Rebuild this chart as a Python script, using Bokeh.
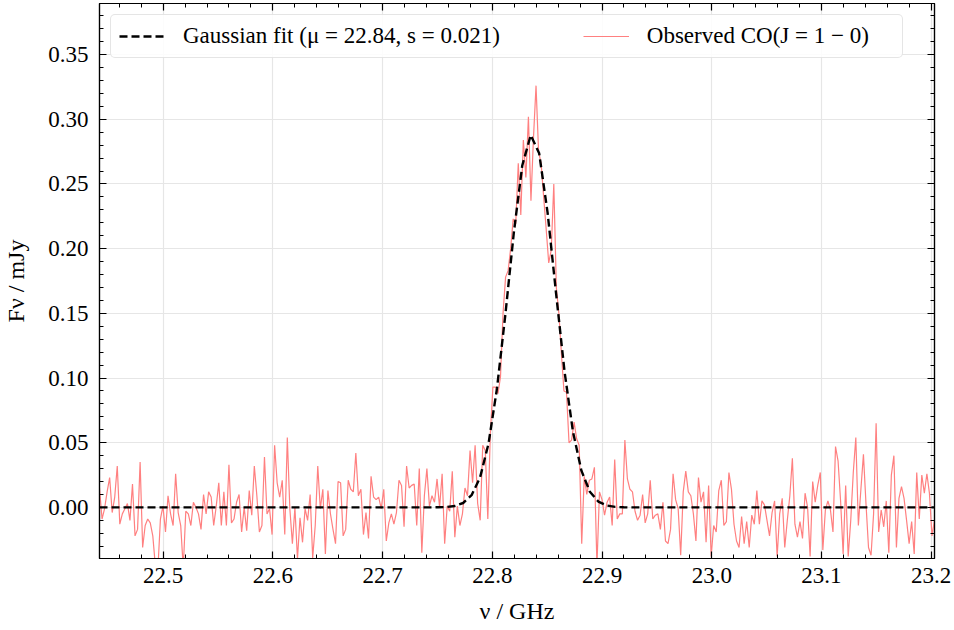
import numpy as np
from bokeh.plotting import figure
from bokeh.models import (Range1d, LinearAxis, SingleIntervalTicker,
                          NumeralTickFormatter, Legend, LegendItem)
from bokeh.embed import file_html
from bokeh.resources import INLINE

# ---------------- data ----------------
freq_start = 22.442   # GHz, first channel
freq_stop = 23.203    # GHz, last channel

# observed CO(1-0) spectrum, mJy, one value per channel
flux_obs = [
    # 22.44 - 22.58
    0.015, -0.009, -0.001, 0.012, 0.023, -0.004, 0.008, 0.032, -0.013, -0.005,
    -0.001, 0.003, -0.010, 0.018, -0.022, -0.017, 0.035, -0.031, -0.014, -0.009,
    -0.012, -0.022, -0.045, -0.048, -0.009, 0.001, -0.019, 0.009, -0.005, -0.014,
    0.026, -0.004, -0.014, -0.047, -0.003, -0.005, -0.014, 0.004, 0.000, -0.005,
    -0.017, 0.010, -0.005, 0.012, 0.008, -0.014, 0.001, 0.019, -0.014, 0.012,
    -0.014, 0.033, -0.012, -0.009, 0.004, 0.010, -0.019, 0.000, -0.018,
    # 22.58 - 22.71
    0.013, -0.006, 0.032, 0.009, -0.019, -0.014, 0.039, -0.005, -0.001, -0.021,
    0.048, 0.019, 0.008, 0.021, -0.021, 0.054, -0.001, -0.028, 0.000, -0.040,
    -0.008, -0.027, -0.001, -0.010, 0.010, -0.039, -0.014, 0.032, -0.001, 0.014,
    -0.036, 0.013, -0.005, -0.017, -0.028, 0.020, 0.019, -0.022, -0.017, 0.021,
    0.014, 0.012, 0.042, 0.009, 0.014, -0.021, -0.004, -0.024, 0.024, 0.008,
    0.006, 0.008, -0.001, 0.014, -0.026, -0.012, -0.005,
    # 22.71 - 22.78
    -0.013, -0.004, 0.021, 0.017, -0.015, 0.032, 0.015, 0.017, 0.018, -0.014,
    0.030, -0.035, 0.009, 0.030, 0.001, 0.009, 0.004, 0.022, 0.000, 0.026,
    -0.028, 0.001, -0.003, 0.028, -0.023, 0.001, -0.014, -0.005, 0.015, 0.009,
    0.044, 0.019, 0.048,
    # 22.79 - 22.89 (line)
    0.003, -0.010, 0.048, 0.044, -0.009, 0.057, 0.093, 0.093, 0.088, 0.101,
    0.150, 0.178, 0.183, 0.200, 0.223, 0.219, 0.266, 0.226, 0.284, 0.255,
    0.302, 0.237, 0.286, 0.326, 0.275, 0.266, 0.240, 0.215, 0.189, 0.199,
    0.250, 0.170, 0.150, 0.119, 0.090, 0.089, 0.050, 0.052, 0.066, 0.053,
    0.048, -0.028, 0.024, 0.010, 0.021, 0.022, 0.031,
    # 22.90 - 23.00
    -0.045, 0.012, 0.006, -0.006, 0.004, 0.008, -0.014, 0.037, -0.009, -0.005,
    -0.005, 0.052, 0.022, 0.014, 0.012, -0.003, -0.010, -0.006, 0.010, -0.012,
    -0.005, 0.021, -0.009, -0.006, -0.005, -0.017, 0.004, -0.026, -0.028, -0.017,
    0.026, 0.006, -0.001, -0.037, 0.012, 0.028, 0.012, 0.009, -0.005, -0.026,
    0.023, 0.004, 0.012, -0.027, 0.017,
    # 23.00 - 23.12
    -0.038, -0.014, -0.019, 0.013, 0.021, -0.014, -0.011, 0.027, 0.014, -0.013,
    -0.026, -0.031, -0.007, -0.028, -0.011, -0.031, -0.006, -0.013, 0.013, -0.013,
    0.005, 0.002, -0.010, -0.022, -0.004, 0.005, -0.038, -0.005, 0.007, -0.031,
    -0.010, 0.009, 0.038, -0.013, -0.023, -0.011, -0.024, 0.011, 0.000, -0.038,
    0.020, 0.004, 0.017, 0.027, -0.033, -0.002, 0.005, -0.002, -0.019, 0.047,
    0.036, 0.005,
    # 23.12 - 23.20
    -0.036, 0.017, -0.038, -0.010, 0.027, 0.054, -0.014, 0.014, 0.041, 0.003,
    -0.031, -0.037, -0.005, 0.065, -0.019, -0.002, -0.015, 0.005, -0.035, 0.025,
    0.040, -0.031, 0.007, 0.016, 0.007, -0.010, -0.028, -0.011, -0.036, 0.027,
    -0.009, 0.025, 0.011, 0.026, 0.011, -0.022, -0.010,
]

# Gaussian fit curve as drawn (sampled points)
fit_freq = [22.442, 22.7426, 22.7503, 22.7580, 22.7657, 22.7734, 22.7811,
            22.7888, 22.7965, 22.8042, 22.8119, 22.8196, 22.8273, 22.8350,
            22.8427, 22.8504, 22.8581, 22.8658, 22.8735, 22.8812, 22.8889,
            22.8966, 22.9043, 22.9120, 22.9197, 22.9274, 23.203]
fit_flux = [0.0, 0.0, 0.0001, 0.0003, 0.0011, 0.0034, 0.0094,
            0.0230, 0.0491, 0.0916, 0.1491, 0.2123, 0.2643, 0.2877,
            0.2737, 0.2277, 0.1655, 0.1052, 0.0585, 0.0284, 0.0121,
            0.0045, 0.0015, 0.0004, 0.0001, 0.0, 0.0]

fit_label = "Gaussian fit (\u03bc = 22.84, s = 0.021)"
obs_label = "Observed CO(J = 1 \u2212 0)"
x_label = "\u03bd / GHz"
y_label = "F\u03bd / mJy"

freq = np.linspace(freq_start, freq_stop, len(flux_obs))

# ---------------- figure ----------------
FONT = "Liberation Serif"

p = figure(width=954, height=630,
           x_range=Range1d(22.442, 23.203), y_range=Range1d(-0.0395, 0.3895),
           output_backend="svg", toolbar_location=None,
           min_border_left=97, min_border_right=20,
           min_border_top=3, min_border_bottom=72)
p.background_fill_color = "white"
p.border_fill_color = "white"
p.outline_line_color = "black"
p.outline_line_width = 1.2

xticker = SingleIntervalTicker(interval=0.1, num_minor_ticks=5)
yticker = SingleIntervalTicker(interval=0.05, num_minor_ticks=5)

p.add_layout(LinearAxis(), "above")
p.add_layout(LinearAxis(), "right")


def style_axis(ax, ticker, fmt, labels):
    ax.ticker = ticker
    ax.formatter = fmt
    ax.axis_line_color = "black"
    ax.axis_line_width = 1.2
    ax.major_tick_in = 7
    ax.major_tick_out = 0
    ax.minor_tick_in = 4
    ax.minor_tick_out = 0
    ax.major_tick_line_color = "black"
    ax.minor_tick_line_color = "black"
    ax.major_tick_line_width = 1.2
    ax.minor_tick_line_width = 1.0
    ax.major_label_text_font = FONT
    ax.axis_label_text_font = FONT
    ax.axis_label_text_font_style = "normal"
    ax.axis_label_text_color = "black"
    ax.axis_label_text_font_size = "24px"
    if labels:
        ax.major_label_text_font_size = "23px"
        ax.major_label_text_color = "black"
    else:
        # frame-only axis: ticks, no labels drawn
        ax.major_label_text_font_size = "0px"
        ax.major_label_text_color = None
        ax.major_label_standoff = 0
        ax.axis_label = None


xfmt = NumeralTickFormatter(format="0.0")
yfmt = NumeralTickFormatter(format="0.00")

style_axis(p.below[0], xticker, xfmt, True)
style_axis(p.above[0], xticker, xfmt, False)
style_axis(p.left[0], yticker, yfmt, True)
style_axis(p.right[0], yticker, yfmt, False)

p.below[0].axis_label = x_label
p.below[0].major_label_standoff = 9
p.below[0].axis_label_standoff = 12
p.left[0].axis_label = y_label
p.left[0].major_label_standoff = 11
p.left[0].axis_label_standoff = 16

for g in (p.xgrid[0], p.ygrid[0]):
    g.grid_line_color = "#e6e6e6"
    g.grid_line_width = 1.2
p.xgrid[0].ticker = xticker
p.ygrid[0].ticker = yticker

r_obs = p.line(freq, flux_obs, line_color="#ff8080", line_width=1.2)
r_fit = p.line(fit_freq, fit_flux, line_color="black", line_width=2.4,
               line_dash="8 4")

legend = Legend(items=[LegendItem(label=fit_label, renderers=[r_fit]),
                       LegendItem(label=obs_label, renderers=[r_obs])],
                location="top_left", orientation="horizontal")
legend.margin = 11
legend.padding = 8
legend.spacing = 83
legend.glyph_width = 46
legend.glyph_height = 22
legend.label_standoff = 18
legend.label_width = 247
legend.label_text_font = FONT
legend.label_text_font_size = "23px"
legend.label_text_color = "black"
legend.border_line_color = "#cccccc"
legend.border_line_width = 1.5
legend.background_fill_color = "white"
legend.background_fill_alpha = 0.85
if "border_radius" in Legend.properties():
    legend.border_radius = 5
p.add_layout(legend)

open("out.html", "w").write(file_html(p, INLINE))
